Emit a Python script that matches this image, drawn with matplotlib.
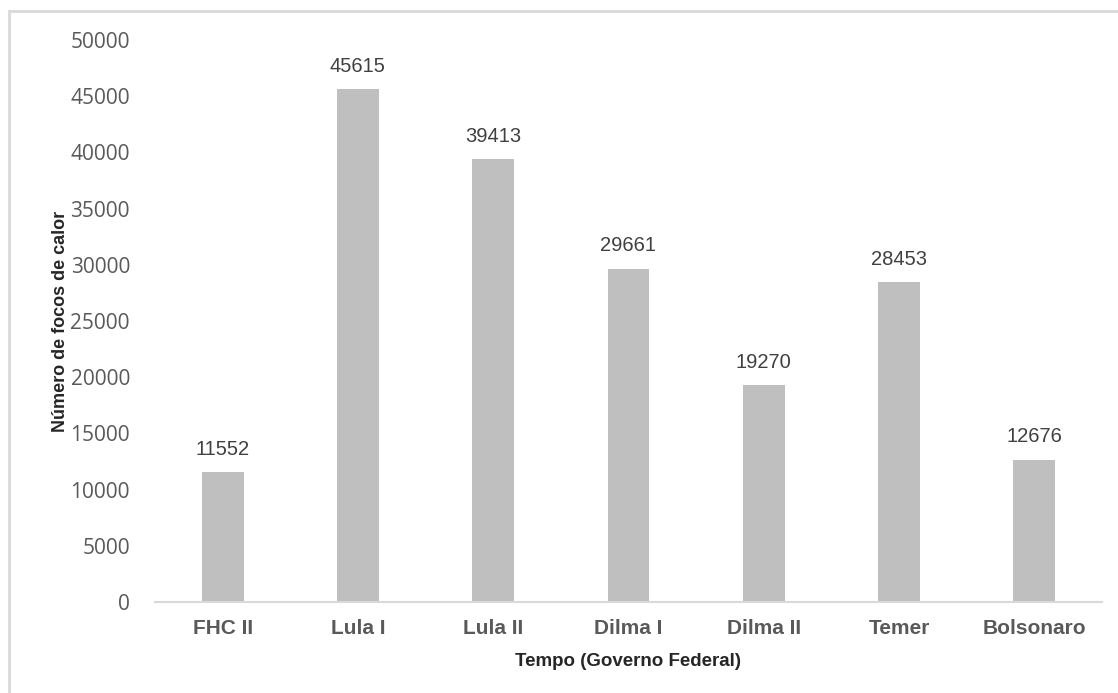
"""
    Focos de calor por governo federal - grafico de barras.
"""

import matplotlib
matplotlib.use("Agg")
import matplotlib.pyplot as plt
from matplotlib.patches import Rectangle

# Dados do grafico
governos = ["FHC II", "Lula I", "Lula II", "Dilma I", "Dilma II", "Temer", "Bolsonaro"]
focos = [11552, 45615, 39413, 29661, 19270, 28453, 12676]
yticks = list(range(0, 50001, 5000))

fig = plt.figure(figsize=(11.18, 6.93), dpi=100)
ax = fig.add_axes([0.1386, 0.1313, 0.8471, 0.8110])

# Moldura externa da area do grafico
fig.patches.append(Rectangle((9 / 1118, -0.05), 1.2, 1 - 11 / 693 + 0.05,
                             transform=fig.transFigure, fill=False,
                             edgecolor="#D9D9D9", linewidth=2))

x = range(len(governos))
bars = ax.bar(x, focos, width=0.31, color="#BFBFBF")

# Rotulos com os valores
for b, v in zip(bars, focos):
    ax.text(b.get_x() + b.get_width() / 2, v + 1200, str(v),
            ha="center", va="bottom", fontsize=14.5,
            family="Liberation Sans", color="#404040")

ax.set_xlim(-0.5, len(governos) - 0.5)
ax.set_ylim(0, 50000)
ax.set_yticks(yticks)
ax.set_yticklabels([str(t) for t in yticks], fontsize=15, family="Open Sans",
                   color="#595959")
ax.set_xticks(list(x))
ax.set_xticklabels(governos, fontsize=15, family="Liberation Sans",
                   fontweight="bold", color="#595959")
ax.tick_params(axis="both", length=0)
ax.tick_params(axis="y", pad=18)
ax.tick_params(axis="x", pad=12)

for s in ["left", "right", "top"]:
    ax.spines[s].set_visible(False)
ax.spines["bottom"].set_color("#D9D9D9")
ax.spines["bottom"].set_linewidth(1.5)

ax.set_xlabel("Tempo (Governo Federal)", fontsize=13.5, family="Liberation Sans",
              fontweight="bold", color="#262626", labelpad=11)
ax.set_ylabel("Número de focos de calor", fontsize=13, family="Liberation Sans",
              fontweight="bold", color="#262626", labelpad=1)

fig.savefig("out.png", dpi=100)
